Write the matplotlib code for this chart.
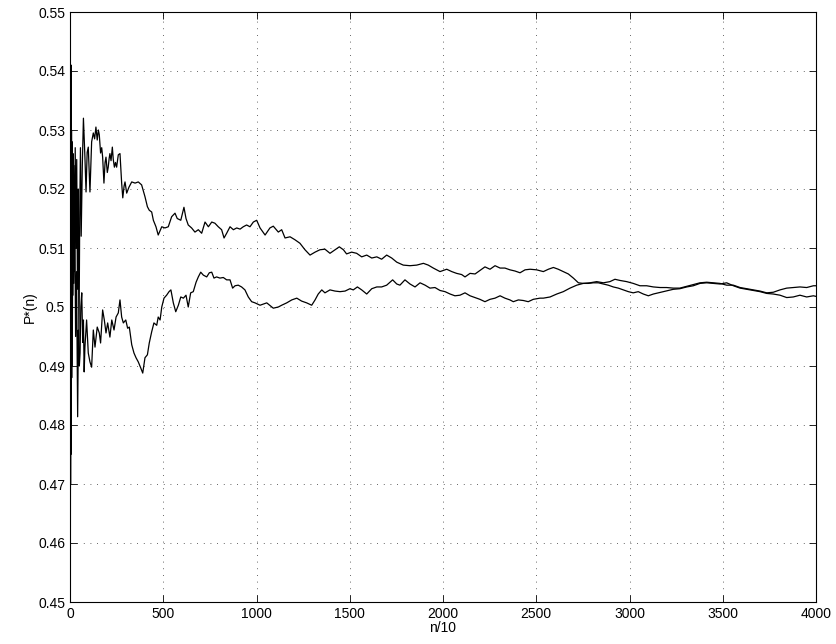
import matplotlib
matplotlib.use("Agg")
import matplotlib.pyplot as plt
import numpy as np

# running estimate P*(n), two runs
n_a = [1, 3, 6, 9, 12, 16, 20, 24, 28, 32,
       36, 40, 44, 48, 52, 56, 60, 66, 72, 80,
       86, 92, 98, 107, 116, 125, 132, 139, 146, 152,
       157, 164, 170, 175, 182, 188, 193, 200, 205, 210,
       214, 220, 227, 232, 238, 244, 250, 259, 268, 277,
       283, 290, 295, 304, 316, 331, 349, 366, 384, 402,
       415, 425, 438, 447, 461, 473, 492, 509, 527, 545,
       563, 575, 594, 611, 622, 634, 652, 670, 688, 706,
       724, 742, 760, 777, 795, 813, 826, 840, 858, 876,
       894, 912, 929, 947, 965, 983, 1001, 1019, 1046, 1072,
       1090, 1117, 1135, 1153, 1180, 1206, 1233, 1260, 1287, 1314,
       1340, 1367, 1394, 1421, 1444, 1466, 1483, 1510, 1537, 1564,
       1591, 1618, 1645, 1671, 1698, 1725, 1752, 1787, 1823, 1859,
       1895, 1921, 1948, 1984, 2020, 2047, 2073, 2100, 2118, 2145,
       2172, 2198, 2225, 2252, 2279, 2306, 2332, 2359, 2386, 2413,
       2440, 2467, 2502, 2538, 2565, 2592, 2618, 2645, 2672, 2699,
       2726, 2752, 2779, 2806, 2833, 2860, 2886, 2913, 2940, 2967,
       2994, 3020, 3047, 3074, 3101, 3128, 3154, 3181, 3208, 3235,
       3270, 3307, 3342, 3378, 3414, 3449, 3485, 3521, 3557, 3593,
       3628, 3664, 3700, 3736, 3771, 3807, 3843, 3878, 3914, 3950,
       3986, 4000]
p_a = [0.60, 0.47, 0.541, 0.488, 0.528, 0.502, 0.524, 0.506, 0.527, 0.510,
       0.525, 0.503, 0.520, 0.493, 0.515, 0.527, 0.512, 0.524, 0.532, 0.5254,
       0.5195, 0.5262, 0.5271, 0.5195, 0.528, 0.5295, 0.5285, 0.5305, 0.5283, 0.530,
       0.5292, 0.5261, 0.527, 0.5254, 0.521, 0.5245, 0.5254, 0.5228, 0.5237, 0.5252,
       0.526, 0.5248, 0.5271, 0.525, 0.5237, 0.5245, 0.5237, 0.5258, 0.526, 0.521,
       0.5185, 0.5205, 0.5212, 0.5193, 0.5203, 0.5212, 0.521, 0.5212, 0.5207, 0.5187,
       0.517, 0.5164, 0.5161, 0.5147, 0.5136, 0.5122, 0.5136, 0.5134, 0.5136, 0.5153,
       0.5159, 0.515, 0.5147, 0.5169, 0.515, 0.5139, 0.5134, 0.5127, 0.5131, 0.5125,
       0.5144, 0.5136, 0.5144, 0.5142, 0.5136, 0.5131, 0.5117, 0.5125, 0.5136, 0.5131,
       0.5134, 0.5132, 0.5136, 0.5139, 0.5136, 0.5144, 0.5147, 0.5134, 0.5122, 0.5134,
       0.5137, 0.5127, 0.5131, 0.5117, 0.5119, 0.5114, 0.5108, 0.5097, 0.5088, 0.5093,
       0.5097, 0.5098, 0.5091, 0.5097, 0.5102, 0.5097, 0.509, 0.5093, 0.5091, 0.5085,
       0.5088, 0.5083, 0.5085, 0.5081, 0.5088, 0.5083, 0.5076, 0.5071, 0.507, 0.5071,
       0.5074, 0.5071, 0.5066, 0.506, 0.5064, 0.506, 0.5057, 0.5055, 0.5051, 0.5057,
       0.5056, 0.5062, 0.5068, 0.5064, 0.507, 0.5066, 0.5066, 0.5063, 0.5061, 0.5058,
       0.5063, 0.5064, 0.5063, 0.506, 0.5064, 0.5067, 0.5064, 0.506, 0.5056, 0.5049,
       0.5041, 0.504, 0.504, 0.5041, 0.5041, 0.5039, 0.5037, 0.5034, 0.5032, 0.5029,
       0.5026, 0.5024, 0.5026, 0.5022, 0.5019, 0.5022, 0.5024, 0.5026, 0.5028, 0.503,
       0.5031, 0.5034, 0.5036, 0.504, 0.5041, 0.504, 0.5039, 0.5041, 0.5036, 0.5032,
       0.503, 0.5028, 0.5026, 0.5023, 0.5022, 0.502, 0.5016, 0.5017, 0.502, 0.5017,
       0.5019, 0.5018]

n_b = [1, 3, 5, 8, 12, 16, 20, 25, 30, 35,
       41, 45, 50, 54, 58, 63, 68, 72, 76, 80,
       89, 98, 107, 116, 125, 134, 146, 157, 164, 175,
       184, 193, 202, 214, 224, 236, 247, 259, 268, 277,
       286, 299, 309, 318, 331, 343, 354, 366, 379, 390,
       402, 415, 425, 438, 450, 465, 473, 483, 492, 504,
       518, 531, 541, 554, 567, 581, 594, 608, 622, 634,
       647, 661, 676, 688, 701, 715, 733, 747, 760, 772,
       786, 804, 822, 840, 858, 872, 885, 902, 920, 938,
       956, 974, 992, 1019, 1055, 1090, 1117, 1135, 1162, 1189,
       1216, 1242, 1269, 1296, 1314, 1331, 1350, 1367, 1394, 1421,
       1448, 1475, 1501, 1519, 1541, 1564, 1591, 1618, 1645, 1671,
       1698, 1730, 1752, 1769, 1796, 1823, 1850, 1877, 1904, 1930,
       1957, 1984, 2011, 2038, 2064, 2091, 2118, 2145, 2172, 2198,
       2225, 2252, 2279, 2306, 2332, 2359, 2377, 2404, 2431, 2457,
       2484, 2520, 2538, 2574, 2610, 2645, 2681, 2717, 2752, 2788,
       2824, 2860, 2895, 2922, 2949, 2985, 3020, 3056, 3092, 3128,
       3164, 3199, 3235, 3270, 3307, 3342, 3378, 3414, 3449, 3485,
       3521, 3557, 3593, 3628, 3664, 3700, 3736, 3771, 3807, 3843,
       3878, 3914, 3950, 3986, 4000]
p_b = [0.40, 0.52, 0.475, 0.530, 0.490, 0.526, 0.504, 0.520, 0.495, 0.506,
       0.4814, 0.4961, 0.490, 0.4922, 0.500, 0.5024, 0.494, 0.4978, 0.489, 0.4932,
       0.4978, 0.4922, 0.4907, 0.4898, 0.4961, 0.4932, 0.4966, 0.4956, 0.4939, 0.4995,
       0.4978, 0.4956, 0.4973, 0.4949, 0.4978, 0.4961, 0.4983, 0.499, 0.5012, 0.4983,
       0.4973, 0.4978, 0.4964, 0.4966, 0.4936, 0.4922, 0.4914, 0.4907, 0.4897, 0.4888,
       0.4914, 0.4919, 0.4939, 0.4958, 0.4973, 0.4969, 0.4983, 0.4978, 0.500, 0.5015,
       0.502, 0.5026, 0.5029, 0.5007, 0.4992, 0.5003, 0.5017, 0.5015, 0.502, 0.500,
       0.5024, 0.5026, 0.5042, 0.5051, 0.5059, 0.5054, 0.5051, 0.5058, 0.5059, 0.5049,
       0.5051, 0.5049, 0.505, 0.5046, 0.5046, 0.5032, 0.5036, 0.5037, 0.5034, 0.5029,
       0.5017, 0.5009, 0.5007, 0.5003, 0.5007, 0.4998, 0.500, 0.5003, 0.5007, 0.5012,
       0.5015, 0.501, 0.5007, 0.5003, 0.5012, 0.5022, 0.5029, 0.5024, 0.5029, 0.5027,
       0.5026, 0.5027, 0.5031, 0.5029, 0.5034, 0.5029, 0.5022, 0.5031, 0.5034, 0.5034,
       0.5037, 0.5046, 0.5039, 0.5037, 0.5046, 0.5039, 0.5034, 0.5041, 0.5037, 0.5032,
       0.5033, 0.5028, 0.5026, 0.5022, 0.5019, 0.502, 0.5024, 0.5019, 0.5016, 0.5013,
       0.5009, 0.5013, 0.5015, 0.5019, 0.5015, 0.5012, 0.5009, 0.5012, 0.5011, 0.5009,
       0.5013, 0.5015, 0.5015, 0.5017, 0.5022, 0.5026, 0.5032, 0.5037, 0.504, 0.5041,
       0.5043, 0.5041, 0.5043, 0.5047, 0.5045, 0.5043, 0.504, 0.5036, 0.5036, 0.5034,
       0.5033, 0.5033, 0.5032, 0.5032, 0.5035, 0.5038, 0.5041, 0.5042, 0.5041, 0.504,
       0.5037, 0.5037, 0.5033, 0.5031, 0.5029, 0.5027, 0.5024, 0.5025, 0.5029, 0.5032,
       0.5033, 0.5034, 0.5033, 0.5036, 0.5036]

assert len(n_a) == len(p_a) and len(n_b) == len(p_b)

x_ticks = np.arange(0, 4001, 500)
y_ticks = np.round(np.arange(0.45, 0.5501, 0.01), 2)
y_labels = ["%g" % v for v in y_ticks]

plt.rcParams["font.family"] = ["Liberation Sans", "DejaVu Sans"]
plt.rcParams["font.size"] = 10

fig = plt.figure(figsize=(8.37, 6.44), dpi=100)
ax = fig.add_axes([70 / 837, 42 / 644, 746 / 837, 590 / 644])

ax.plot(n_a, p_a, color="black", lw=0.9)
ax.plot(n_b, p_b, color="black", lw=0.9)

ax.set_xlim(0, 4000)
ax.set_ylim(0.45, 0.55)
ax.set_xticks(x_ticks)
ax.set_yticks(y_ticks)
ax.set_yticklabels(y_labels)
# matlab style dotted grid
ax.grid(True, color="#333333", linestyle=(0, (1, 7)), linewidth=0.6)
ax.tick_params(direction="in", top=True, right=True, length=5, width=0.6)
for s in ax.spines.values():
    s.set_linewidth(0.8)

ax.set_xlabel("n/10", labelpad=0)
ax.set_ylabel("P*(n)", labelpad=1)

fig.savefig("out.png", dpi=100)
